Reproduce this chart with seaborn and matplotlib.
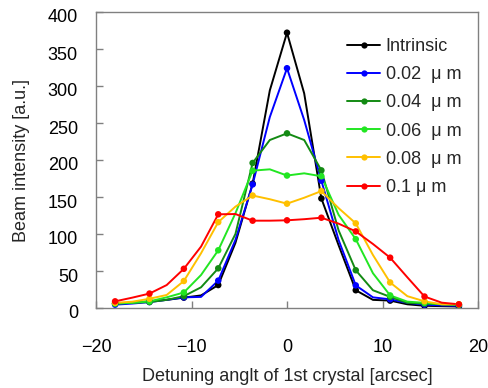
import numpy as np
import pandas as pd
import matplotlib
matplotlib.use("Agg")
import matplotlib.pyplot as plt
import matplotlib.transforms as mtransforms
from matplotlib.lines import Line2D
import seaborn as sns

# Detuning angle samples [arcsec]; markers sit on every other sample (3.6 arcsec step)
angle = [-18.0, -16.2, -14.4, -12.6, -10.8, -9.0, -7.2, -5.4, -3.6, -1.8, 0.0,
         1.8, 3.6, 5.4, 7.2, 9.0, 10.8, 12.6, 14.4, 16.2, 18.0]

intrinsic = [6, 7, 9, 11, 14, 17, 31, 88, 168, 294, 372,
             290, 148, 85, 24, 11, 10, 5, 3, 2.5, 2]
rough_002 = [4.5, 6, 8, 11, 14.4, 15, 37, 92, 167, 258, 324,
             254, 172, 92, 30.6, 14.4, 11.7, 7, 4.5, 3.5, 3]
rough_004 = [6, 7, 8, 11, 16, 28, 53.6, 100, 196, 227, 236,
             227, 186, 105, 51, 24, 15, 7, 6, 5, 4]
rough_006 = [6, 7, 9, 14.4, 21, 44.6, 78, 128, 185.6, 187.4, 179,
             182, 178, 126, 93, 47, 17, 8.6, 7, 5, 4.5]
rough_008 = [7, 8.5, 12.5, 17.6, 36.5, 74, 116, 137, 152, 147, 141,
             149, 158, 135, 114.4, 71.6, 34.5, 16, 9, 5, 5]
rough_010 = [9, 14, 19.5, 31, 53, 83, 126.6, 127, 118, 118, 118.5,
             120, 122, 114, 103.5, 86.5, 68, 41.5, 15.5, 7.2, 5]

series_names = ["Intrinsic", "0.02  μ m", "0.04  μ m", "0.06  μ m", "0.08  μ m", "0.1 μ m"]
series_values = [intrinsic, rough_002, rough_004, rough_006, rough_008, rough_010]
series_colors = ["#000000", "#0000ff", "#138a13", "#22e622", "#ffc000", "#ff0000"]

x_ticks = [-20, -10, 0, 10, 20]
y_ticks = [0, 50, 100, 150, 200, 250, 300, 350, 400]

rows = []
for name, vals in zip(series_names, series_values):
    for i, (a, v) in enumerate(zip(angle, vals)):
        rows.append({"angle": a, "intensity": v, "series": name, "marked": i % 2 == 0})
df = pd.DataFrame(rows)
palette = dict(zip(series_names, series_colors))

sns.set_theme(style="white")
plt.rcParams["font.family"] = ["Liberation Sans", "DejaVu Sans"]
plt.rcParams["font.size"] = 13

fig = plt.figure(figsize=(4.88, 3.88), dpi=100)
ax = fig.add_axes([96 / 488, 1 - 308 / 388, 382 / 488, 296 / 388])

sns.lineplot(data=df, x="angle", y="intensity", hue="series", hue_order=series_names,
             palette=palette, linewidth=1.4, legend=False, ax=ax, sort=True)
sns.scatterplot(data=df[df["marked"]], x="angle", y="intensity", hue="series",
                hue_order=series_names, palette=palette, s=22, linewidth=0,
                legend=False, ax=ax, zorder=3)

ax.set_xlim(-20, 20)
ax.set_ylim(0, 400)
ax.set_xticks(x_ticks)
ax.set_yticks(y_ticks)
ax.set_xlabel("Detuning anglt of 1st crystal [arcsec]", fontsize=13, labelpad=9)
ax.set_ylabel("Beam intensity [a.u.]", fontsize=13, labelpad=13)

for sp in ax.spines.values():
    sp.set_color("#808080")
    sp.set_linewidth(1.0)
ax.tick_params(axis="both", direction="in", length=5, width=1, color="#808080",
               labelsize=13, labelcolor="black")
ax.tick_params(axis="x", pad=22, bottom=True)
ax.tick_params(axis="y", pad=13, left=True)

shift = mtransforms.ScaledTranslation(0, -4 / 100, fig.dpi_scale_trans)
for lab in ax.get_yticklabels():
    lab.set_transform(lab.get_transform() + shift)

handles = [Line2D([], [], color=c, linewidth=1.4, marker="o", markersize=4.5,
                  markeredgewidth=0) for c in series_colors]
ax.legend(handles, series_names, loc="upper left",
          bbox_to_anchor=(347 / 488, 1 - 38 / 388), bbox_transform=fig.transFigure,
          frameon=False, borderpad=0, borderaxespad=0, handlelength=1.85,
          handletextpad=0.3, labelspacing=0.62, fontsize=13, numpoints=1)

fig.savefig("out.png", dpi=100)
